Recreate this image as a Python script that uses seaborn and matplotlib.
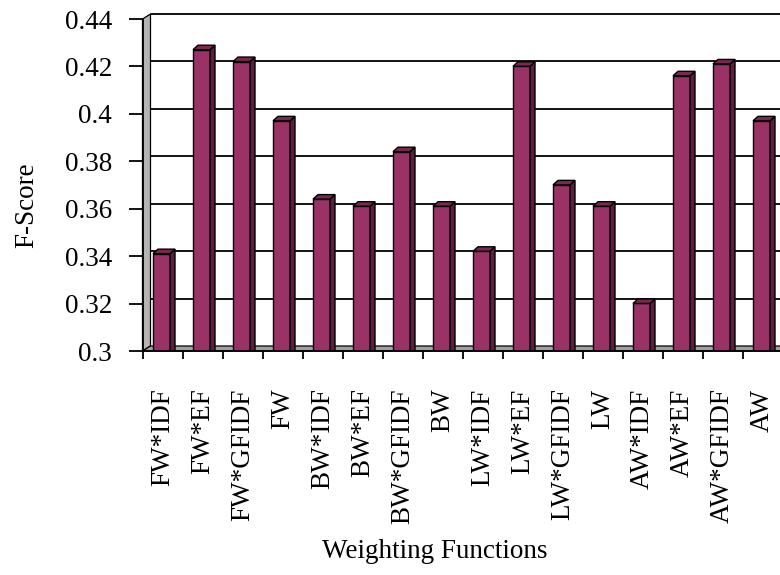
import numpy as np
import pandas as pd
import seaborn as sns
import matplotlib
matplotlib.use("Agg")
import matplotlib.pyplot as plt
from matplotlib.patches import Polygon
from matplotlib.transforms import ScaledTranslation

# F-score of each term weighting function
categories = ["FW*IDF", "FW*EF", "FW*GFIDF", "FW",
              "BW*IDF", "BW*EF", "BW*GFIDF", "BW",
              "LW*IDF", "LW*EF", "LW*GFIDF", "LW",
              "AW*IDF", "AW*EF", "AW*GFIDF", "AW"]
f_scores = [0.340, 0.426, 0.421, 0.396,
            0.363, 0.360, 0.383, 0.360,
            0.341, 0.419, 0.369, 0.360,
            0.319, 0.415, 0.420, 0.396]
y_ticks = [0.30, 0.32, 0.34, 0.36, 0.38, 0.40, 0.42, 0.44]
y_tick_labels = ["0.3", "0.32", "0.34", "0.36", "0.38", "0.4", "0.42", "0.44"]

sns.set_style("white")
plt.rcParams["font.family"] = ["Liberation Serif", "DejaVu Serif"]

W, H, DPI = 780, 575, 100
fig = plt.figure(figsize=(W / DPI, H / DPI), dpi=DPI)
ax_w, ax_h = 640, 332
ax = fig.add_axes([142.5 / W, 224 / H, ax_w / W, ax_h / H])

df = pd.DataFrame({"Weighting Functions": categories, "F-Score": f_scores})
sns.barplot(data=df, x="Weighting Functions", y="F-Score", color="#993366",
            saturation=1, width=0.425, edgecolor="black", linewidth=1.0,
            ax=ax, zorder=3)

ax.set_xlim(-0.5, 15.5)
ax.set_ylim(0.30, 0.44)

# pixel -> data conversion for the pseudo-3D depth effects
px_x = ax_w / 16.0
px_y = ax_h / 0.14
wall_dx, wall_dy = 8 / px_x, 5 / px_y
bar_dx, bar_dy = 5 / px_x, 4.5 / px_y

# back wall gridlines
wall_off = ax.transData + ScaledTranslation(8 / DPI, 5 / DPI, fig.dpi_scale_trans)
for v in y_ticks[1:]:
    ax.plot([-0.5, 16.5], [v, v], color="black", lw=1.3,
            transform=wall_off, clip_on=False, zorder=1)

# side wall and floor
side_wall = Polygon([(-0.5, 0.30), (-0.5, 0.44), (-0.5 + wall_dx, 0.44 + wall_dy),
                     (-0.5 + wall_dx, 0.30 + wall_dy)], closed=True,
                    facecolor="#b4b4b4", edgecolor="black", lw=0.9,
                    clip_on=False, zorder=1.5)
ax.add_patch(side_wall)
floor = Polygon([(-0.5, 0.30), (16.5, 0.30), (16.5 + wall_dx, 0.30 + wall_dy),
                 (-0.5 + wall_dx, 0.30 + wall_dy)], closed=True,
                facecolor="#a0a0a0", edgecolor="black", lw=0.9,
                clip_on=False, zorder=1.5)
ax.add_patch(floor)

# give each bar a top and a side face
bar_off = ax.transData + ScaledTranslation(-1 / DPI, 2.5 / DPI, fig.dpi_scale_trans)
bars = [p for p in ax.patches if p not in (side_wall, floor)]
for p in bars:
    p.set_transform(bar_off)
    x0, w = p.get_x(), p.get_width()
    top = p.get_y() + p.get_height()
    x1 = x0 + w
    side = Polygon([(x1, 0.29), (x1, top), (x1 + bar_dx, top + bar_dy),
                    (x1 + bar_dx, 0.29 + bar_dy)], closed=True,
                   facecolor="#5c1f3e", edgecolor="black", lw=1.0,
                   transform=bar_off, zorder=3)
    cap = Polygon([(x0, top), (x1, top), (x1 + bar_dx, top + bar_dy),
                   (x0 + bar_dx, top + bar_dy)], closed=True,
                  facecolor="#7a2850", edgecolor="black", lw=1.0,
                  transform=bar_off, zorder=3)
    ax.add_patch(side)
    ax.add_patch(cap)

# axes, ticks and labels
for s in ["top", "right"]:
    ax.spines[s].set_visible(False)
for s in ["left", "bottom"]:
    ax.spines[s].set_color("black")
    ax.spines[s].set_linewidth(1.3)
    ax.spines[s].set_zorder(5)

ax.set_yticks(y_ticks, y_tick_labels)
ax.tick_params(axis="y", which="major", direction="out", length=10, width=1.3,
               pad=12, labelsize=19.5, colors="black", left=True)
ax.set_xticks(range(len(categories)), categories, rotation=90)
ax.set_xticks(np.arange(-0.5, 16, 1.0), minor=True)
ax.tick_params(axis="x", which="major", length=0, pad=27, labelsize=19.5,
               colors="black")
ax.tick_params(axis="x", which="minor", direction="out", length=6, width=1.3,
               bottom=True, colors="black")
ax.grid(False)

ax.set_xlabel("Weighting Functions", fontsize=19.5, color="black")
ax.xaxis.set_label_coords((435 - 142.5) / ax_w, -(551 - 351) / ax_h)
ax.xaxis.label.set_va("center")
ax.set_ylabel("F-Score", fontsize=19.5, color="black")
ax.yaxis.set_label_coords((27 - 142.5) / ax_w, (351 - 205) / ax_h)
ax.yaxis.label.set_va("center")

fig.savefig("out.png", dpi=DPI)
